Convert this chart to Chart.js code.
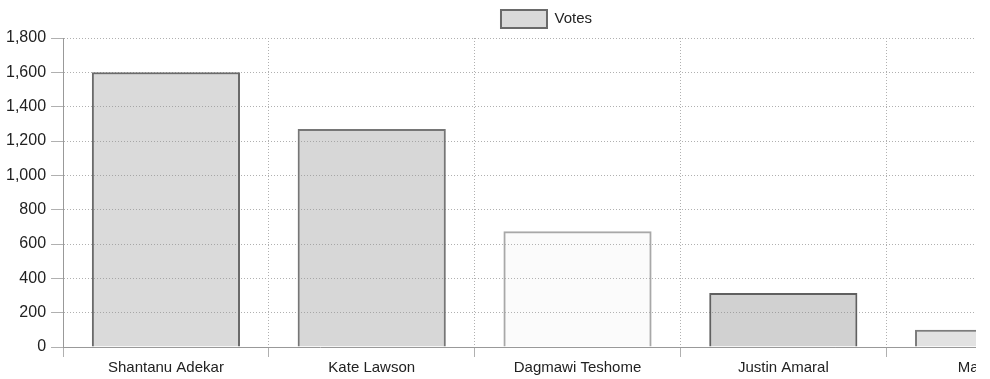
<!DOCTYPE html>
<html>
<head>
<meta charset="utf-8">
<script src="https://cdn.jsdelivr.net/npm/chart.js@4.4.1/dist/chart.umd.min.js"></script>
<style>
html,body{margin:0;padding:0;background:#fff;overflow:hidden;}
#clip{width:976px;height:379px;overflow:hidden;}
#wrap{width:1094px;height:379px;}
</style>
</head>
<body>
<div id="clip"><div id="wrap"><canvas id="c" width="1094" height="379"></canvas></div></div>
<script>
const categories = ["Shantanu Adekar", "Kate Lawson", "Dagmawi Teshome", "Justin Amaral", "Mark Lee"];
const votes = [1600, 1270, 675, 315, 100];
const seriesLabel = "Votes";
const yTicksMax = 1800;
const yTickStep = 200;

const fills = ["rgba(150,150,150,0.35)", "rgba(150,150,150,0.38)", "rgba(200,200,200,0.08)", "rgba(140,140,140,0.4)", "rgba(160,160,160,0.3)"];
const borders = ["#6a6a6a", "#767676", "#a8a8a8", "#606060", "#7c7c7c"];

Chart.defaults.font.family = "'Liberation Sans', Arial, sans-serif";
Chart.defaults.color = "#222";

new Chart(document.getElementById('c'), {
  type: 'bar',
  data: {
    labels: categories,
    datasets: [{
      label: seriesLabel,
      data: votes,
      backgroundColor: fills,
      borderColor: borders,
      borderWidth: 2
    }]
  },
  options: {
    responsive: false,
    animation: false,
    layout: { padding: { left: 1, right: 2, top: 0, bottom: 0 } },
    plugins: {
      legend: {
        labels: { boxWidth: 46, boxHeight: 18, font: { size: 15 }, color: '#222' }
      },
      tooltip: { enabled: false }
    },
    scales: {
      x: {
        grid: { color: '#b0b0b0', tickLength: 10 },
        border: { color: '#999', dash: [1, 2] },
        ticks: { font: { size: 15 }, color: '#222', maxRotation: 0, autoSkip: false, padding: 2 }
      },
      y: {
        min: 0,
        max: yTicksMax,
        grid: { color: '#b0b0b0', tickLength: 12 },
        border: { color: '#999', dash: [1, 2] },
        ticks: { stepSize: yTickStep, font: { size: 16 }, color: '#222', padding: 5 }
      }
    }
  }
});
</script>
</body>
</html>
